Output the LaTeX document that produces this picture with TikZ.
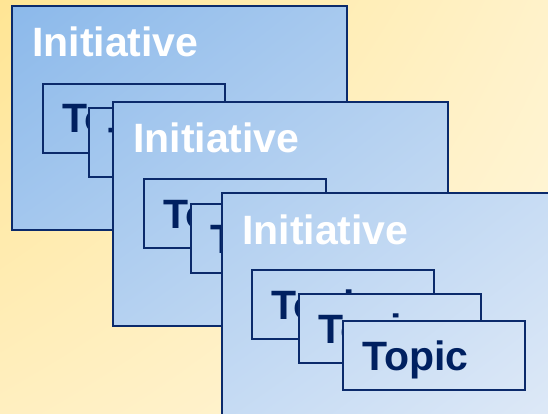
\documentclass[tikz,border=0pt]{standalone}
\usepackage{fontspec}
\setmainfont{Liberation Sans}
\usepackage{tikz}
\usetikzlibrary{positioning, shadings}

\definecolor{navy}{HTML}{0B2A6B}
\definecolor{topicblue}{HTML}{002060}
\definecolor{blueA}{HTML}{8AB8EA}
\definecolor{blueM}{HTML}{B6D2F1}
\definecolor{blueB}{HTML}{DEE9F7}
\definecolor{yelA}{HTML}{FFE594}
\definecolor{yelB}{HTML}{FFF2CA}
\definecolor{yelC}{HTML}{FFEFC0}
\definecolor{yelD}{HTML}{FFF6DC}

\tikzset{
	glass/.style={draw=navy, line width=1.8pt, inner sep=0pt, anchor=north west,
		path picture={\shade[upper left=blueA, upper right=blueM, lower left=blueM, lower right=blueB] (bgnw) rectangle (bgse);}},
	initiative/.style={glass, minimum width=335pt, minimum height=224pt},
	topicbox/.style={glass, minimum width=182pt, minimum height=69pt},
	initlabel/.style={anchor=base west, text=white, font=\bfseries\fontsize{41}{41}\selectfont, inner sep=0pt},
	topiclabel/.style={anchor=base west, text=topicblue, font=\bfseries\fontsize{41}{41}\selectfont, inner sep=0pt}
}

\begin{document}
\begin{tikzpicture}[x=1pt, y=-1pt]
	\useasboundingbox (0,0) rectangle (548,414);
	\clip (0,0) rectangle (548,414);
	\coordinate (bgnw) at (0,0);
	\coordinate (bgse) at (548,414);
	\shade[upper left=yelA, upper right=yelB, lower left=yelC, lower right=yelD] (bgnw) rectangle (bgse);
%first initiative
	\node[initiative] (init1) at (11,5) {};
	\node[initlabel] (init1lbl) at ([xshift=21pt, yshift=-52pt]init1.north west) {Initiative};
	\node[topicbox] (topic1a) at (42,83) {};
	\node[topiclabel] (topic1alb) at ([xshift=20pt, yshift=-50pt]topic1a.north west) {Topic};
	\node[topicbox] (topic1b) at (88,107) {};
	\node[topiclabel] (topic1blb) at ([xshift=20pt, yshift=-50pt]topic1b.north west) {Topic};
%second initiative
	\node[initiative] (init2) at (112,101) {};
	\node[initlabel] (init2lbl) at ([xshift=21pt, yshift=-52pt]init2.north west) {Initiative};
	\node[topicbox] (topic2a) at (143,178) {};
	\node[topiclabel] (topic2alb) at ([xshift=20pt, yshift=-50pt]topic2a.north west) {Topic};
	\node[topicbox] (topic2b) at (190,203) {};
	\node[topiclabel] (topic2blb) at ([xshift=20pt, yshift=-50pt]topic2b.north west) {Topic};
%third initiative
	\node[initiative] (init3) at (221,192) {};
	\node[initlabel] (init3lbl) at ([xshift=21pt, yshift=-52pt]init3.north west) {Initiative};
	\node[topicbox] (topic3a) at (251,269) {};
	\node[topiclabel] (topic3alb) at ([xshift=20pt, yshift=-50pt]topic3a.north west) {Topic};
	\node[topicbox] (topic3b) at (298,293) {};
	\node[topiclabel] (topic3blb) at ([xshift=20pt, yshift=-50pt]topic3b.north west) {Topic};
	\node[topicbox] (topic3c) at (342,320) {};
	\node[topiclabel] (topic3clb) at ([xshift=20pt, yshift=-50pt]topic3c.north west) {Topic};
\end{tikzpicture}
\end{document}
